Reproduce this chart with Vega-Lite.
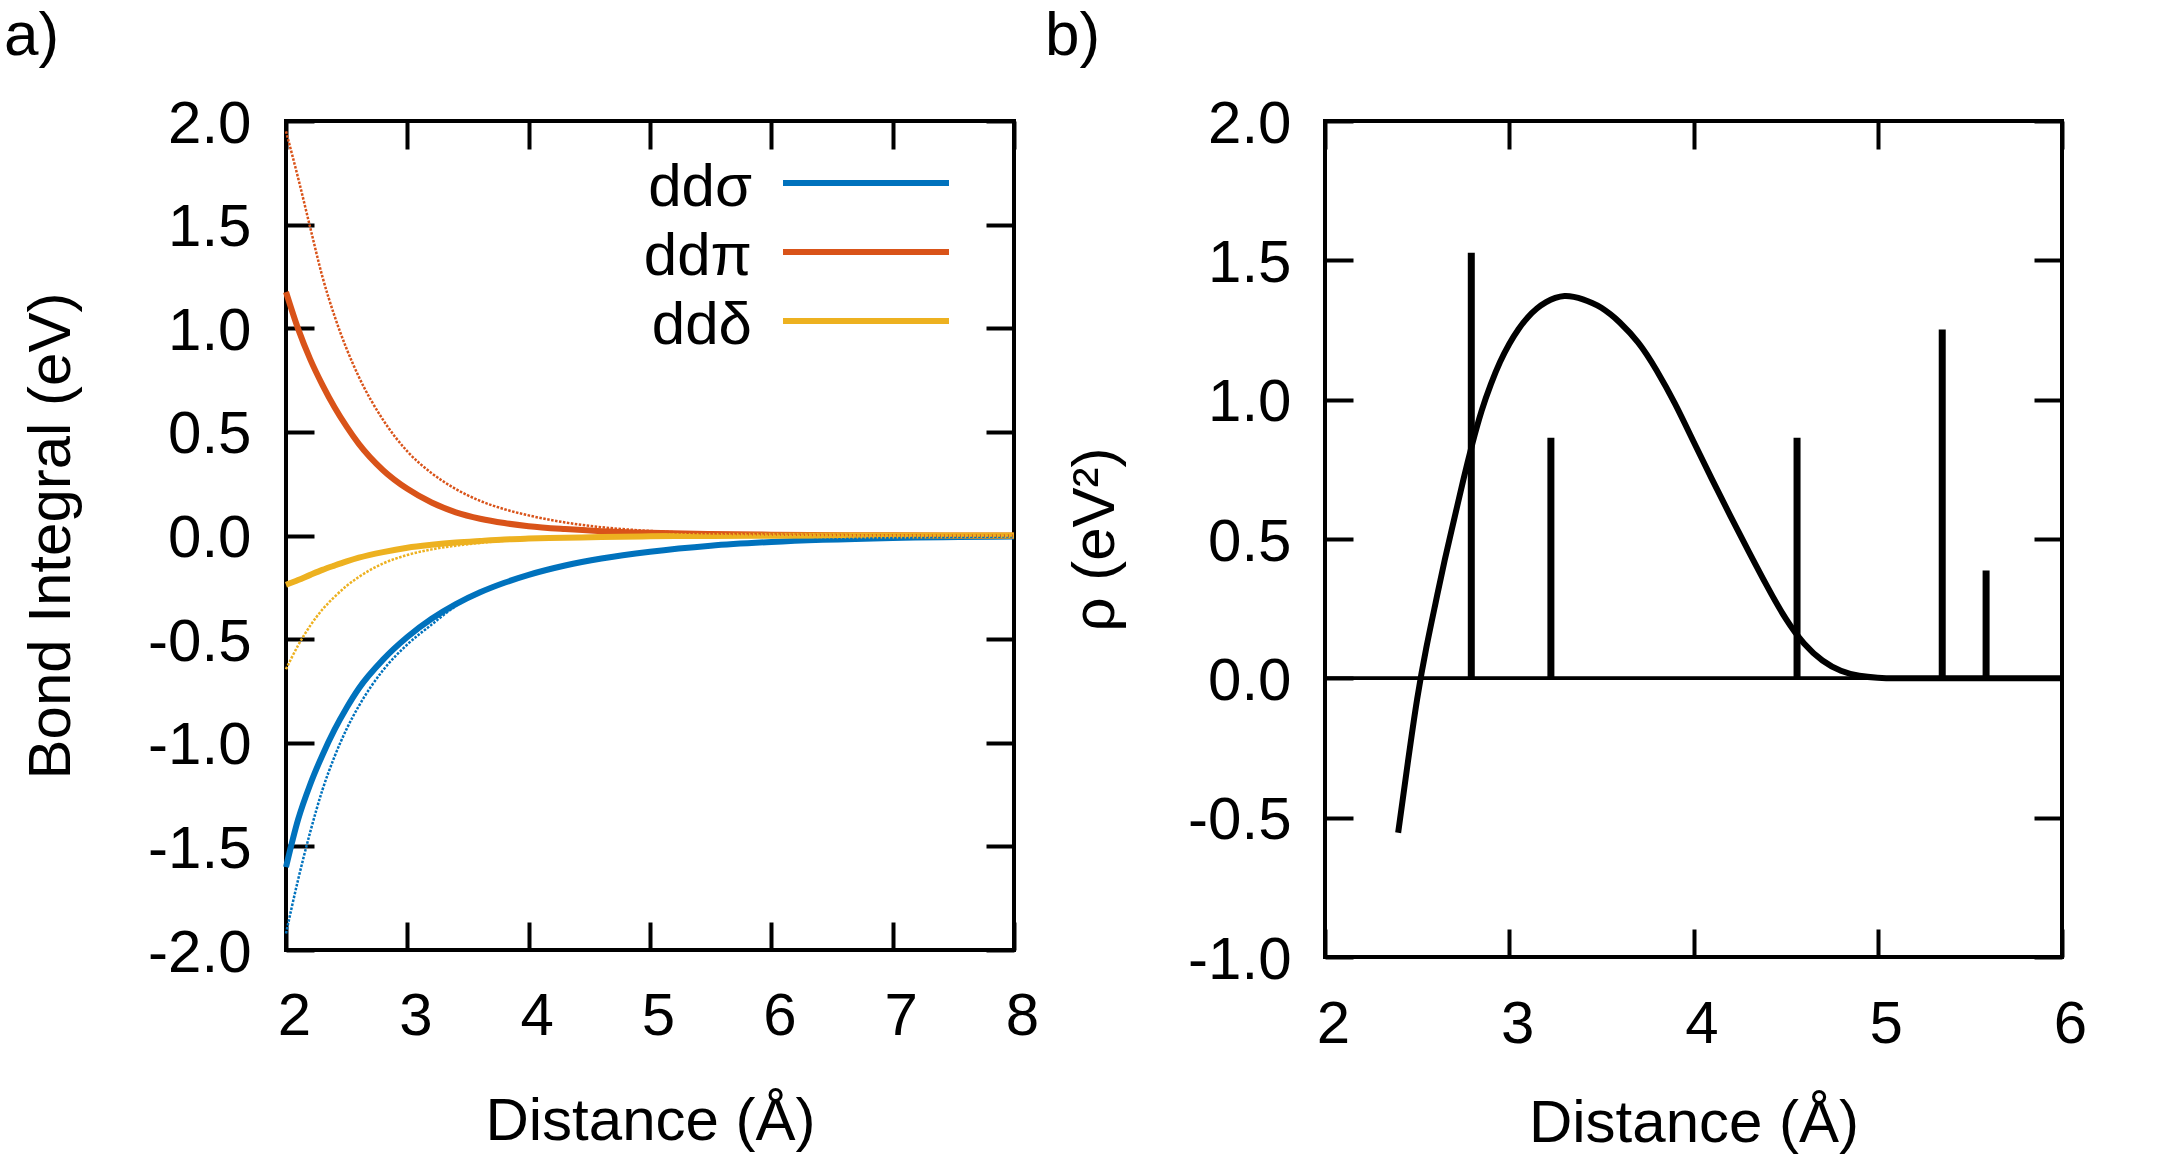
{
  "$schema": "https://vega.github.io/schema/vega-lite/v6.json",
  "background": "white",
  "padding": {"left": 2, "top": 3, "right": 5, "bottom": 5},
  "bounds": "flush",
  "spacing": 311,
  "datasets": {
    "solid": [
      {"s": "ddσ", "d": 2.0, "v": -1.60}, {"s": "ddσ", "d": 2.1, "v": -1.37}, {"s": "ddσ", "d": 2.2, "v": -1.20}, {"s": "ddσ", "d": 2.3, "v": -1.06}, {"s": "ddσ", "d": 2.4, "v": -0.937}, {"s": "ddσ", "d": 2.5, "v": -0.831}, {"s": "ddσ", "d": 2.6, "v": -0.738}, {"s": "ddσ", "d": 2.8, "v": -0.599}, {"s": "ddσ", "d": 3.0, "v": -0.490}, {"s": "ddσ", "d": 3.2, "v": -0.402}, {"s": "ddσ", "d": 3.4, "v": -0.331}, {"s": "ddσ", "d": 3.6, "v": -0.274}, {"s": "ddσ", "d": 3.8, "v": -0.228}, {"s": "ddσ", "d": 4.0, "v": -0.190}, {"s": "ddσ", "d": 4.3, "v": -0.145}, {"s": "ddσ", "d": 4.6, "v": -0.111}, {"s": "ddσ", "d": 5.0, "v": -0.078}, {"s": "ddσ", "d": 5.5, "v": -0.049}, {"s": "ddσ", "d": 6.0, "v": -0.031}, {"s": "ddσ", "d": 7.0, "v": -0.012}, {"s": "ddσ", "d": 8.0, "v": -0.005},
      {"s": "ddπ", "d": 2.0, "v": 1.175}, {"s": "ddπ", "d": 2.1, "v": 0.997}, {"s": "ddπ", "d": 2.2, "v": 0.85}, {"s": "ddπ", "d": 2.3, "v": 0.727}, {"s": "ddπ", "d": 2.4, "v": 0.619}, {"s": "ddπ", "d": 2.5, "v": 0.525}, {"s": "ddπ", "d": 2.6, "v": 0.442}, {"s": "ddπ", "d": 2.8, "v": 0.315}, {"s": "ddπ", "d": 3.0, "v": 0.225}, {"s": "ddπ", "d": 3.2, "v": 0.159}, {"s": "ddπ", "d": 3.4, "v": 0.112}, {"s": "ddπ", "d": 3.6, "v": 0.081}, {"s": "ddπ", "d": 3.8, "v": 0.060}, {"s": "ddπ", "d": 4.0, "v": 0.045}, {"s": "ddπ", "d": 4.3, "v": 0.031}, {"s": "ddπ", "d": 4.6, "v": 0.021}, {"s": "ddπ", "d": 5.0, "v": 0.013}, {"s": "ddπ", "d": 5.5, "v": 0.007}, {"s": "ddπ", "d": 6.0, "v": 0.004}, {"s": "ddπ", "d": 7.0, "v": 0.001}, {"s": "ddπ", "d": 8.0, "v": 0.0},
      {"s": "ddδ", "d": 2.0, "v": -0.238}, {"s": "ddδ", "d": 2.1, "v": -0.215}, {"s": "ddδ", "d": 2.2, "v": -0.19}, {"s": "ddδ", "d": 2.3, "v": -0.166}, {"s": "ddδ", "d": 2.4, "v": -0.145}, {"s": "ddδ", "d": 2.5, "v": -0.125}, {"s": "ddδ", "d": 2.6, "v": -0.107}, {"s": "ddδ", "d": 2.8, "v": -0.080}, {"s": "ddδ", "d": 3.0, "v": -0.059}, {"s": "ddδ", "d": 3.2, "v": -0.045}, {"s": "ddδ", "d": 3.4, "v": -0.034}, {"s": "ddδ", "d": 3.6, "v": -0.026}, {"s": "ddδ", "d": 3.8, "v": -0.019}, {"s": "ddδ", "d": 4.0, "v": -0.015}, {"s": "ddδ", "d": 4.3, "v": -0.011}, {"s": "ddδ", "d": 4.6, "v": -0.007}, {"s": "ddδ", "d": 5.0, "v": -0.004}, {"s": "ddδ", "d": 5.5, "v": -0.002}, {"s": "ddδ", "d": 6.0, "v": -0.001}, {"s": "ddδ", "d": 7.0, "v": 0.0}, {"s": "ddδ", "d": 8.0, "v": 0.0}
    ],
    "dotted": [
      {"s": "ddσ", "d": 2.0, "v": -1.92}, {"s": "ddσ", "d": 2.1, "v": -1.66}, {"s": "ddσ", "d": 2.2, "v": -1.43}, {"s": "ddσ", "d": 2.3, "v": -1.228}, {"s": "ddσ", "d": 2.4, "v": -1.067}, {"s": "ddσ", "d": 2.5, "v": -0.933}, {"s": "ddσ", "d": 2.6, "v": -0.823}, {"s": "ddσ", "d": 2.8, "v": -0.650}, {"s": "ddσ", "d": 3.0, "v": -0.526}, {"s": "ddσ", "d": 3.2, "v": -0.43}, {"s": "ddσ", "d": 3.4, "v": -0.34}, {"s": "ddσ", "d": 3.6, "v": -0.278}, {"s": "ddσ", "d": 3.8, "v": -0.23}, {"s": "ddσ", "d": 4.0, "v": -0.191}, {"s": "ddσ", "d": 4.3, "v": -0.145}, {"s": "ddσ", "d": 4.6, "v": -0.111}, {"s": "ddσ", "d": 5.0, "v": -0.078}, {"s": "ddσ", "d": 5.5, "v": -0.049}, {"s": "ddσ", "d": 6.0, "v": -0.031}, {"s": "ddσ", "d": 7.0, "v": -0.012}, {"s": "ddσ", "d": 8.0, "v": -0.005},
      {"s": "ddπ", "d": 2.0, "v": 1.95}, {"s": "ddπ", "d": 2.1, "v": 1.725}, {"s": "ddπ", "d": 2.2, "v": 1.485}, {"s": "ddπ", "d": 2.3, "v": 1.249}, {"s": "ddπ", "d": 2.4, "v": 1.059}, {"s": "ddπ", "d": 2.5, "v": 0.900}, {"s": "ddπ", "d": 2.6, "v": 0.766}, {"s": "ddπ", "d": 2.8, "v": 0.558}, {"s": "ddπ", "d": 3.0, "v": 0.406}, {"s": "ddπ", "d": 3.2, "v": 0.301}, {"s": "ddπ", "d": 3.4, "v": 0.224}, {"s": "ddπ", "d": 3.6, "v": 0.167}, {"s": "ddπ", "d": 3.8, "v": 0.127}, {"s": "ddπ", "d": 4.0, "v": 0.097}, {"s": "ddπ", "d": 4.3, "v": 0.063}, {"s": "ddπ", "d": 4.6, "v": 0.040}, {"s": "ddπ", "d": 5.0, "v": 0.022}, {"s": "ddπ", "d": 5.5, "v": 0.010}, {"s": "ddπ", "d": 6.0, "v": 0.005}, {"s": "ddπ", "d": 7.0, "v": 0.001}, {"s": "ddπ", "d": 8.0, "v": 0.0},
      {"s": "ddδ", "d": 2.0, "v": -0.645}, {"s": "ddδ", "d": 2.1, "v": -0.53}, {"s": "ddδ", "d": 2.2, "v": -0.435}, {"s": "ddδ", "d": 2.3, "v": -0.357}, {"s": "ddδ", "d": 2.4, "v": -0.296}, {"s": "ddδ", "d": 2.5, "v": -0.243}, {"s": "ddδ", "d": 2.6, "v": -0.200}, {"s": "ddδ", "d": 2.8, "v": -0.135}, {"s": "ddδ", "d": 3.0, "v": -0.094}, {"s": "ddδ", "d": 3.2, "v": -0.067}, {"s": "ddδ", "d": 3.4, "v": -0.049}, {"s": "ddδ", "d": 3.6, "v": -0.036}, {"s": "ddδ", "d": 3.8, "v": -0.025}, {"s": "ddδ", "d": 4.0, "v": -0.020}, {"s": "ddδ", "d": 4.3, "v": -0.013}, {"s": "ddδ", "d": 4.6, "v": -0.009}, {"s": "ddδ", "d": 5.0, "v": -0.005}, {"s": "ddδ", "d": 5.5, "v": -0.002}, {"s": "ddδ", "d": 6.0, "v": -0.001}, {"s": "ddδ", "d": 7.0, "v": 0.0}, {"s": "ddδ", "d": 8.0, "v": 0.0}
    ],
    "curve": [
      {"d": 2.397, "rho": -0.554}, {"d": 2.45, "rho": -0.30}, {"d": 2.5, "rho": -0.075}, {"d": 2.55, "rho": 0.11}, {"d": 2.6, "rho": 0.27}, {"d": 2.65, "rho": 0.425}, {"d": 2.7, "rho": 0.568}, {"d": 2.75, "rho": 0.71}, {"d": 2.8, "rho": 0.843}, {"d": 2.85, "rho": 0.96}, {"d": 2.9, "rho": 1.055}, {"d": 2.95, "rho": 1.135}, {"d": 3.0, "rho": 1.2}, {"d": 3.05, "rho": 1.253}, {"d": 3.1, "rho": 1.295}, {"d": 3.15, "rho": 1.327}, {"d": 3.2, "rho": 1.35}, {"d": 3.25, "rho": 1.365}, {"d": 3.3, "rho": 1.372}, {"d": 3.35, "rho": 1.369}, {"d": 3.4, "rho": 1.36}, {"d": 3.45, "rho": 1.347}, {"d": 3.5, "rho": 1.33}, {"d": 3.55, "rho": 1.306}, {"d": 3.6, "rho": 1.277}, {"d": 3.7, "rho": 1.205}, {"d": 3.8, "rho": 1.105}, {"d": 3.9, "rho": 0.985}, {"d": 4.0, "rho": 0.85}, {"d": 4.1, "rho": 0.715}, {"d": 4.2, "rho": 0.583}, {"d": 4.3, "rho": 0.455}, {"d": 4.4, "rho": 0.33}, {"d": 4.5, "rho": 0.215}, {"d": 4.6, "rho": 0.125}, {"d": 4.7, "rho": 0.064}, {"d": 4.8, "rho": 0.027}, {"d": 4.9, "rho": 0.009}, {"d": 5.0, "rho": 0.002}, {"d": 5.1, "rho": 0.0}, {"d": 5.3, "rho": 0.0}, {"d": 5.6, "rho": 0.0}, {"d": 6.0, "rho": 0.0}
    ],
    "bars": [
      {"d": 2.794, "h": 1.527}, {"d": 3.226, "h": 0.863}, {"d": 4.562, "h": 0.863}, {"d": 5.35, "h": 1.252}, {"d": 5.588, "h": 0.387}
    ]
  },
  "hconcat": [
    {
      "width": 728,
      "height": 829,
      "title": {"text": "a)", "anchor": "start", "frame": "group", "dx": -282, "offset": -23, "baseline": "alphabetic", "fontSize": 62, "fontWeight": "normal", "color": "black", "font": "Liberation Sans"},
      "layer": [
        {
          "data": {"name": "solid"},
          "mark": {"type": "line", "strokeWidth": 6, "interpolate": "monotone"},
          "encoding": {
            "x": {"field": "d", "type": "quantitative", "scale": {"domain": [2, 8], "nice": false, "zero": false},
                  "axis": {"orient": "bottom", "values": [2, 3, 4, 5, 6, 7, 8], "title": "Distance (Å)", "labelPadding": 65, "labelOffset": 8, "titlePadding": 46}},
            "y": {"field": "v", "type": "quantitative", "scale": {"domain": [-2, 2], "nice": false, "zero": false},
                  "axis": {"orient": "left", "values": [-2, -1.5, -1, -0.5, 0, 0.5, 1, 1.5, 2], "format": ".1f", "labelExpr": "replace(datum.label, '−', '-')", "title": "Bond Integral (eV)", "labelPadding": 63, "labelOffset": 3, "titlePadding": 65}},
            "color": {"field": "s", "type": "nominal", "sort": ["ddσ", "ddπ", "ddδ"],
                      "scale": {"domain": ["ddσ", "ddπ", "ddδ"], "range": ["#0072BD", "#D95319", "#EDB120"]},
                      "legend": {"orient": "none", "legendX": 550, "legendY": 32, "title": null, "padding": 0,
                                 "symbolType": "M-5,0H5", "symbolSize": 1102, "symbolStrokeWidth": 6, "symbolOpacity": 1,
                                 "labelFont": "Liberation Sans", "labelFontSize": 60, "labelColor": "black", "labelAlign": "right", "labelOffset": -144, "labelLimit": 400,
                                 "rowPadding": 4,
                                 "encode": {"labels": {"update": {"dy": {"value": 5}}}}}}
          }
        },
        {
          "data": {"name": "dotted"},
          "mark": {"type": "line", "strokeWidth": 2.5, "strokeDash": [2.5, 1.5], "interpolate": "monotone"},
          "encoding": {
            "x": {"field": "d", "type": "quantitative", "scale": {"domain": [2, 8], "nice": false, "zero": false},
                  "axis": {"orient": "top", "values": [2, 3, 4, 5, 6, 7, 8], "labels": false, "title": null}},
            "y": {"field": "v", "type": "quantitative", "scale": {"domain": [-2, 2], "nice": false, "zero": false},
                  "axis": {"orient": "right", "values": [-2, -1.5, -1, -0.5, 0, 0.5, 1, 1.5, 2], "labels": false, "title": null}},
            "color": {"field": "s", "type": "nominal", "legend": null}
          }
        }
      ],
      "resolve": {"axis": {"x": "independent", "y": "independent"}}
    },
    {
      "width": 737,
      "height": 836,
      "title": {"text": "b)", "anchor": "start", "frame": "group", "dx": -280, "offset": -23, "baseline": "alphabetic", "fontSize": 62, "fontWeight": "normal", "color": "black", "font": "Liberation Sans"},
      "layer": [
        {
          "data": {"name": "bars"},
          "mark": {"type": "rule", "strokeWidth": 3, "color": "black"},
          "encoding": {
            "y": {"datum": 0, "type": "quantitative", "scale": {"domain": [-1, 2], "nice": false, "zero": false}, "axis": null}
          }
        },
        {
          "data": {"name": "curve"},
          "mark": {"type": "line", "strokeWidth": 6, "color": "black", "interpolate": "natural"},
          "encoding": {
            "x": {"field": "d", "type": "quantitative", "scale": {"domain": [2, 6], "nice": false, "zero": false},
                  "axis": {"orient": "bottom", "values": [2, 3, 4, 5, 6], "title": "Distance (Å)", "labelPadding": 66, "labelOffset": 8, "titlePadding": 40}},
            "y": {"field": "rho", "type": "quantitative", "scale": {"domain": [-1, 2], "nice": false, "zero": false},
                  "axis": {"orient": "left", "values": [-1, -0.5, 0, 0.5, 1, 1.5, 2], "format": ".1f", "labelExpr": "replace(datum.label, '−', '-')", "title": "ρ (eV²)", "labelPadding": 62, "labelOffset": 3, "titlePadding": 61}}
          }
        },
        {
          "data": {"name": "bars"},
          "mark": {"type": "rule", "strokeWidth": 7, "color": "black"},
          "encoding": {
            "x": {"field": "d", "type": "quantitative", "scale": {"domain": [2, 6], "nice": false, "zero": false},
                  "axis": {"orient": "top", "values": [2, 3, 4, 5, 6], "labels": false, "title": null}},
            "y": {"field": "h", "type": "quantitative", "scale": {"domain": [-1, 2], "nice": false, "zero": false},
                  "axis": {"orient": "right", "values": [-1, -0.5, 0, 0.5, 1, 1.5, 2], "labels": false, "title": null}},
            "y2": {"datum": 0}
          }
        }
      ],
      "resolve": {"axis": {"x": "independent", "y": "independent"}}
    }
  ],
  "config": {
    "font": "Liberation Sans",
    "view": {"stroke": "black", "strokeWidth": 4},
    "axis": {
      "domain": false, "grid": false, "ticks": true, "tickSize": -28, "tickWidth": 4, "tickColor": "black",
      "labelFont": "Liberation Sans", "labelFontSize": 60, "labelColor": "black", "labelFlush": false, "labelOverlap": false, "labelBound": false,
      "titleFont": "Liberation Sans", "titleFontSize": 60, "titleFontWeight": "normal", "titleColor": "black"
    }
  }
}
